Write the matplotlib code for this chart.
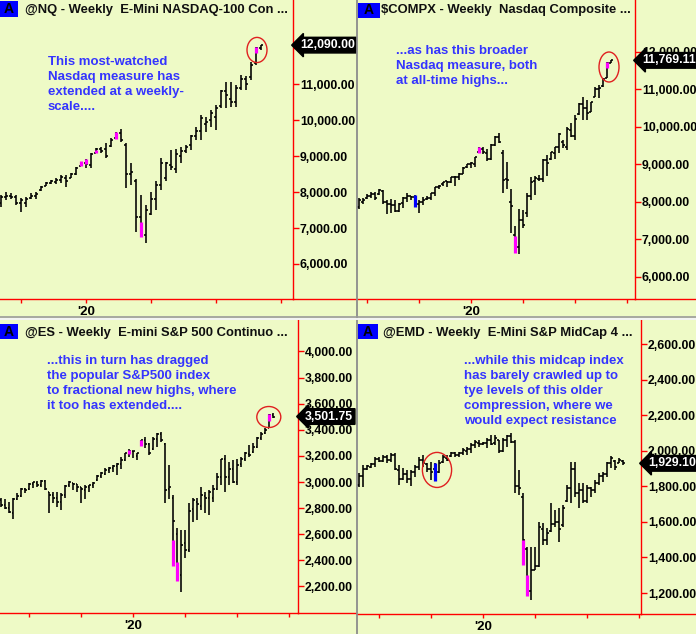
import numpy as np
import matplotlib
matplotlib.use('Agg')
import matplotlib.pyplot as plt
from matplotlib.patches import Rectangle, Ellipse
from matplotlib.lines import Line2D

# ---------------- data (weekly OHLC, x = weeks from first week of 2020) ----------------
nq_first_week = -17
nq_high = [7919, 8011, 7983, 7919, 7827, 7872, 7983, 8011, 8170, 8290, 8337, 8383, 8476, 8476, 8523, 8708,
           8846, 8912, 9080, 9226, 9250, 9366, 9505, 9672, 9756, 9366, 8810, 8365, 7919, 7641, 8011, 8318,
           8941, 8846, 9171, 9200, 9250, 9300, 9589, 9820, 10146, 10100, 10285, 10424, 10841, 11072, 11072,
           10980, 11259, 11231, 11629, 12046, 12094]
nq_low = [7594, 7780, 7800, 7641, 7455, 7577, 7800, 7800, 8039, 8170, 8217, 8217, 8245, 8150, 8383, 8476,
          8717, 8662, 8662, 9080, 9080, 8950, 9255, 9478, 9394, 8114, 8198, 6890, 6752, 6592, 7363, 7502,
          8058, 8318, 8615, 8540, 8820, 9080, 9171, 9450, 9450, 9680, 9820, 9728, 10332, 10332, 10377,
          10377, 10841, 10841, 11120, 11537, 11955]
nq_open = [7700, 7850, 7880, 7850, 7700, 7700, 7830, 7880, 8050, 8180, 8260, 8280, 8340, 8400, 8400, 8500,
           8740, 8800, 8750, 9100, 9200, 9200, 9280, 9500, 9650, 9300, 8500, 8300, 7300, 6800, 7400, 7800,
           8200, 8400, 8750, 8650, 9000, 9150, 9300, 9550, 9700, 9900, 10000, 10100, 10400, 10800, 10600,
           10500, 10900, 11150, 11200, 11600, 12000]
nq_close = [7850, 7900, 7850, 7700, 7780, 7820, 7900, 7950, 8150, 8260, 8300, 8350, 8420, 8300, 8500, 8680,
            8820, 8780, 9050, 9200, 9150, 9000, 9450, 9620, 9450, 8500, 8550, 7300, 6900, 7500, 7800, 8200,
            8800, 8800, 8700, 9050, 9150, 9250, 9550, 9700, 10050, 9950, 10200, 10350, 10800, 10700, 10500,
            10900, 11150, 11000, 11550, 12000, 12090]
nq_mark_idx = [16, 17, 19, 23, 28, 51]
nq_mark_top = [8874, 8912, 9171, 9680, 7176, 12046]
nq_mark_bot = [8735, 8774, 9080, 9470, 6759, 11863]
nq_mark_col = ['magenta'] * 6
nq_last = 12090.00

cx_first_week = -28
cx_high = [8090, 8090, 8197, 8250, 8258, 8330, 8300, 8045, 8063, 8045, 7955, 8133, 8240, 8152, 8178, 8045,
           8133, 8152, 8224, 8384, 8445, 8533, 8560, 8667, 8685, 8757, 8917, 9005, 9067, 9200, 9467, 9450,
           9400, 9540, 9760, 9838, 9380, 9067, 8330, 7360, 7797, 7778, 8224, 8667, 8685, 8712, 9130, 9245,
           9333, 9467, 9823, 9645, 10000, 10090, 10312, 10624, 10800, 10712, 10667, 11067, 11112, 11290,
           11733, 11779]
cx_low = [7797, 7940, 8063, 8090, 8045, 8178, 7940, 7672, 7690, 7733, 7733, 7823, 7999, 8045, 7850, 7690,
          7912, 8045, 8045, 8152, 8330, 8418, 8384, 8490, 8418, 8578, 8738, 8890, 8890, 8933, 9307, 9270,
          9090, 9100, 9480, 9560, 8240, 8330, 7173, 6640, 6605, 7290, 7600, 8045, 8178, 8560, 8533, 8685,
          9112, 9130, 9300, 9424, 9378, 9733, 9645, 10312, 10179, 10179, 10400, 10800, 10757, 11067,
          11290, 11690]
cx_open = [7850, 8000, 8100, 8150, 8200, 8200, 8290, 8000, 7950, 7900, 7760, 7960, 8100, 8140, 8120, 7950,
           7980, 8060, 8090, 8240, 8390, 8470, 8540, 8520, 8660, 8660, 8740, 8920, 9000, 9000, 9320, 9400,
           9300, 9150, 9520, 9730, 9300, 8600, 8000, 7100, 6800, 7500, 7700, 8150, 8550, 8600, 8600, 9100,
           9130, 9300, 9450, 9600, 9450, 9900, 9750, 10350, 10600, 10500, 10400, 10800, 11000, 11080,
           11300, 11700]
cx_close = [8050, 8050, 8150, 8200, 8100, 8300, 8000, 7950, 7900, 7760, 7950, 8100, 8150, 8120, 7950, 7980,
            8050, 8090, 8220, 8380, 8430, 8520, 8520, 8650, 8660, 8730, 8910, 9000, 9020, 9180, 9400, 9320,
            9150, 9520, 9730, 9580, 8570, 8580, 7880, 6880, 7500, 7380, 8150, 8530, 8630, 8600, 9100, 9020,
            9320, 9450, 9800, 9500, 9950, 9760, 10200, 10600, 10500, 10360, 10650, 11010, 11020, 11280,
            11700, 11769.11]
cx_mark_idx = [14, 30, 39, 62]
cx_mark_top = [8178, 9467, 7085, 11733]
cx_mark_bot = [7850, 9307, 6640, 11560]
cx_mark_col = ['blue', 'magenta', 'magenta', 'magenta']
cx_last = 11769.11

es_first_week = -33
es_high = [2875, 2870, 2850, 2880, 2913, 2951, 2951, 2990, 3003, 3010, 3015, 3015, 2926, 2926, 2926, 2913,
           2977, 3010, 2995, 2985, 2964, 2977, 2977, 3003, 3054, 3079, 3105, 3117, 3130, 3143, 3195, 3225,
           3250, 3240, 3225, 3322, 3347, 3296, 3347, 3373, 3386, 3296, 3130, 2900, 2645, 2632, 2632, 2837,
           2875, 2875, 2964, 2926, 2939, 2977, 3066, 3180, 3205, 3156, 3170, 3180, 3190, 3232, 3283, 3296,
           3347, 3386, 3411, 3520, 3531]
es_low = [2811, 2790, 2760, 2714, 2862, 2888, 2913, 2939, 2951, 2964, 2960, 2939, 2760, 2837, 2811, 2786,
          2875, 2964, 2939, 2926, 2837, 2867, 2926, 2951, 3010, 3028, 3054, 3066, 3079, 3054, 3097, 3160,
          3194, 3182, 3170, 3276, 3258, 3207, 3245, 3271, 3309, 2837, 2867, 2357, 2244, 2160, 2415, 2466,
          2696, 2709, 2786, 2760, 2747, 2849, 2939, 2977, 2926, 2977, 2990, 2977, 3117, 3160, 3194, 3220,
          3258, 3322, 3368, 3411, 3488]
es_open = [2860, 2826, 2800, 2760, 2870, 2890, 2945, 2945, 2985, 2995, 2975, 3010, 2920, 2900, 2880, 2850,
           2900, 2975, 2990, 2985, 2960, 2940, 2960, 2975, 3015, 3050, 3065, 3090, 3105, 3120, 3140, 3170,
           3215, 3240, 3200, 3280, 3320, 3290, 3250, 3330, 3370, 3290, 2950, 2880, 2600, 2290, 2530, 2480,
           2790, 2850, 2820, 2890, 2880, 2880, 2950, 3040, 3180, 3040, 3100, 3000, 3140, 3180, 3215, 3230,
           3270, 3340, 3375, 3415, 3510]
es_close = [2826, 2800, 2770, 2870, 2890, 2945, 2940, 2985, 3000, 2975, 3010, 2945, 2900, 2880, 2850, 2900,
            2970, 3000, 2985, 2960, 2950, 2965, 2975, 2995, 3050, 3070, 3095, 3105, 3125, 3135, 3170, 3220,
            3240, 3235, 3220, 3320, 3290, 3220, 3330, 3365, 3320, 2940, 2960, 2700, 2300, 2520, 2480, 2780,
            2860, 2830, 2900, 2880, 2920, 2950, 3040, 3180, 3040, 3100, 3000, 3130, 3180, 3220, 3210, 3270,
            3340, 3370, 3395, 3510, 3501.75]
es_mark_idx = [32, 35, 43, 44, 67]
es_mark_top = [3245, 3322, 2556, 2390, 3520]
es_mark_bot = [3215, 3276, 2357, 2244, 3470]
es_mark_col = ['magenta'] * 5
es_last = 3501.75

em_first_week = -31
em_high = [1873, 1920, 1920, 1929, 1966, 1966, 1976, 1976, 1985, 1985, 1920, 1901, 1892, 1892, 1920, 1966,
           1976, 1929, 1938, 1929, 1948, 1976, 1976, 1995, 1995, 1995, 2013, 2023, 2041, 2060, 2060, 2051,
           2070, 2088, 2088, 2060, 2070, 2088, 2098, 2060, 1892, 1760, 1461, 1461, 1461, 1601, 1592, 1564,
           1704, 1667, 1676, 1695, 1807, 1938, 1938, 1817, 1817, 1807, 1798, 1835, 1873, 1882, 1938, 1970,
           1950, 1958, 1950]
em_low = [1798, 1798, 1892, 1901, 1910, 1935, 1935, 1930, 1935, 1892, 1808, 1835, 1817, 1800, 1854, 1892,
          1910, 1882, 1835, 1832, 1873, 1929, 1940, 1966, 1966, 1966, 1976, 1976, 1985, 2013, 2023, 2032,
          2013, 2032, 2032, 1985, 1995, 2023, 2041, 1760, 1751, 1358, 1184, 1161, 1330, 1349, 1470, 1470,
          1545, 1573, 1489, 1573, 1714, 1704, 1742, 1676, 1704, 1704, 1742, 1760, 1807, 1826, 1854, 1901,
          1892, 1929, 1920]
em_open = [1810, 1860, 1900, 1910, 1925, 1955, 1945, 1965, 1950, 1975, 1890, 1840, 1870, 1840, 1880, 1910,
           1950, 1925, 1900, 1900, 1880, 1935, 1960, 1970, 1985, 1975, 1990, 2000, 2010, 2030, 2045, 2040,
           2045, 2060, 2045, 2060, 2000, 2060, 2080, 2050, 1800, 1740, 1450, 1210, 1330, 1350, 1560, 1500,
           1550, 1590, 1600, 1580, 1720, 1790, 1900, 1760, 1780, 1720, 1790, 1780, 1820, 1860, 1870, 1930,
           1945, 1930, 1945]
em_close = [1860, 1900, 1915, 1925, 1955, 1945, 1965, 1950, 1975, 1900, 1840, 1870, 1840, 1880, 1910, 1950,
            1930, 1900, 1880, 1860, 1930, 1965, 1950, 1990, 1975, 1990, 2005, 2010, 2030, 2050, 2040, 2045,
            2060, 2040, 2070, 2000, 2060, 2080, 2050, 1800, 1790, 1500, 1210, 1330, 1350, 1570, 1500, 1540,
            1590, 1600, 1560, 1680, 1790, 1900, 1760, 1780, 1720, 1790, 1780, 1820, 1860, 1870, 1930, 1960,
            1910, 1950, 1929.10]
em_mark_idx = [19, 41, 42]
em_mark_top = [1929, 1498, 1302]
em_mark_bot = [1832, 1358, 1184]
em_mark_col = ['blue', 'magenta', 'magenta']
em_last = 1929.10

quarter_ticks = [-26, -13, 0, 13, 26, 39]
quarter_labels = ['', '', "'20", '', '', '']

titles = ["@NQ - Weekly  E-Mini NASDAQ-100 Con ...",
          "\\$COMPX - Weekly  Nasdaq Composite ...",
          "@ES - Weekly  E-mini S&P 500 Continuo ...",
          "@EMD - Weekly  E-Mini S&P MidCap 4 ..."]
notes = ["This most-watched\nNasdaq measure has\nextended at a weekly-\nscale....",
         "...as has this broader\nNasdaq measure, both\nat all-time highs...",
         "...this in turn has dragged\nthe popular S&P500 index\nto fractional new highs, where\nit too has extended....",
         "...while this midcap index\nhas barely crawled up to\ntye levels of this older\ncompression, where we\nwould expect resistance"]

# ---------------- style ----------------
W, H, DPI = 696, 634, 100
BG = '#EEFAC6'
RED = '#FF0000'
NOTE_BLUE = '#3434FF'
MARKC = {'magenta': '#FF00FF', 'blue': '#0000FF'}
PT = 72.0 / DPI
plt.rcParams['font.family'] = ['Liberation Sans', 'DejaVu Sans']

fig = plt.figure(figsize=(W / DPI, H / DPI), dpi=DPI, facecolor=BG)


def fx(x):
    return x / W


def fy(y):
    return 1 - y / H


def panel(rect, panel_right, xlim, ylim, yticks, hide_label, first_week, o, h, l, c,
          mark_idx, mark_top, mark_bot, mark_col, last, title, title_x, title_y,
          abox, note, note_x, note_y, ell):
    x0, y0, x1, y1 = rect
    ax = fig.add_axes([fx(x0), fy(y1), (x1 - x0) / W, (y1 - y0) / H])
    ax.set_facecolor(BG)
    for s in ('left', 'top'):
        ax.spines[s].set_visible(False)
    for s in ('right', 'bottom'):
        ax.spines[s].set_color(RED)
        ax.spines[s].set_linewidth(1.0)
    ax.yaxis.tick_right()
    ylabels = ['' if v in hide_label else '{:,.2f}'.format(v) for v in yticks]
    ax.set_yticks(yticks, ylabels, fontweight='bold')
    ax.set_xticks(quarter_ticks, quarter_labels, fontweight='bold')
    ax.tick_params(axis='y', colors=RED, direction='out', length=4, width=1, pad=1,
                   labelcolor='black', labelsize=8.8)
    ax.tick_params(axis='x', colors=RED, direction='out', length=3, width=1, pad=2,
                   labelcolor='black', labelsize=9.5)

    n = len(h)
    wk = np.arange(n) + first_week
    lw = 1.6 * PT
    tk = 0.42
    ax.vlines(wk, l, h, color='black', lw=lw)
    ax.hlines(o, wk - tk, wk, color='black', lw=lw)
    ax.hlines(c, wk, wk + tk, color='black', lw=lw)
    for i, t, b, col in zip(mark_idx, mark_top, mark_bot, mark_col):
        ax.vlines(wk[i], b, t, color=MARKC[col], lw=3.2 * PT, zorder=3)
    ax.set_xlim(*xlim)
    ax.set_ylim(*ylim)

    # extension of the bottom axis line to the panel edge
    fig.add_artist(Line2D([fx(x1), fx(panel_right)], [fy(y1), fy(y1)], color=RED, lw=1.0))

    # last-price tag
    ax.annotate('{:,.2f}'.format(last), xy=(1, last), xycoords=ax.get_yaxis_transform(),
                xytext=(7, 0), textcoords='offset pixels', ha='left', va='center',
                color='white', fontweight='bold', fontsize=8.8, annotation_clip=False,
                bbox=dict(boxstyle='larrow,pad=0.15', fc='black', ec='black'), zorder=10)

    # red ellipse
    ex, ey, ew, eh = ell
    ax.add_patch(Ellipse((ex, ey), ew, eh, fill=False, ec='#E02020', lw=1.0, zorder=4))

    # title bar
    ax_, ay_, aw_, ah_ = abox
    fig.add_artist(Rectangle((fx(ax_), fy(ay_ + ah_)), aw_ / W, ah_ / H, fc='#0000FF', ec='none',
                             transform=fig.transFigure))
    fig.text(fx(ax_ + aw_ / 2), fy(ay_ + ah_ / 2), 'A', ha='center', va='center',
             fontsize=10, fontweight='bold', color='black')
    fig.text(fx(title_x), fy(title_y), title, ha='left', va='center', fontsize=9.4,
             fontweight='bold', color='#101010')

    fig.text(fx(note_x), fy(note_y), note, ha='left', va='top', fontsize=9.5,
             fontweight='bold', color=NOTE_BLUE, linespacing=1.33)
    return ax


panel((0, 0, 293, 299), 356, (-17.2, 41.4), (5025, 13346), list(range(6000, 12001, 1000)), [12000],
      nq_first_week, nq_open, nq_high, nq_low, nq_close,
      nq_mark_idx, nq_mark_top, nq_mark_bot, nq_mark_col, nq_last,
      titles[0], 25, 10, (0, 1, 18, 16), notes[0], 48, 56, (34.2, 11955, 4.0, 700))

panel((357, 0, 635, 299), 696, (-28.5, 41.0), (5405, 13379), list(range(6000, 12001, 1000)), [],
      cx_first_week, cx_open, cx_high, cx_low, cx_close,
      cx_mark_idx, cx_mark_top, cx_mark_bot, cx_mark_col, cx_last,
      titles[1], 381, 10, (358, 3, 22, 15), notes[1], 396, 45, (34.5, 11592, 5.0, 800))

panel((0, 320, 298, 613), 356, (-33.3, 41.2), (1997, 4241), list(range(2200, 4001, 200)), [],
      es_first_week, es_open, es_high, es_low, es_close,
      es_mark_idx, es_mark_top, es_mark_bot, es_mark_col, es_last,
      titles[2], 25, 333, (0, 324, 18, 15), notes[2], 47, 355, (33.9, 3498, 6.0, 161))

panel((357, 320, 641, 614), 696, (-31.5, 39.5), (1082, 2735), list(range(1200, 2601, 200)), [],
      em_first_week, em_open, em_high, em_low, em_close,
      em_mark_idx, em_mark_top, em_mark_bot, em_mark_col, em_last,
      titles[3], 383, 333, (358, 324, 20, 15), notes[3], 464, 355, (-11.5, 1892, 7.3, 197))

# panel separators
fig.add_artist(Line2D([fx(356.5), fx(356.5)], [0, 1], color='#8C8C8C', lw=1.3))
fig.add_artist(Line2D([0, 1], [fy(317), fy(317)], color='#9A9A9A', lw=1.2))
fig.add_artist(Line2D([0, 1], [fy(318.6), fy(318.6)], color='#F4F4F4', lw=1.4))

fig.savefig('out.png', dpi=DPI, facecolor=BG)
